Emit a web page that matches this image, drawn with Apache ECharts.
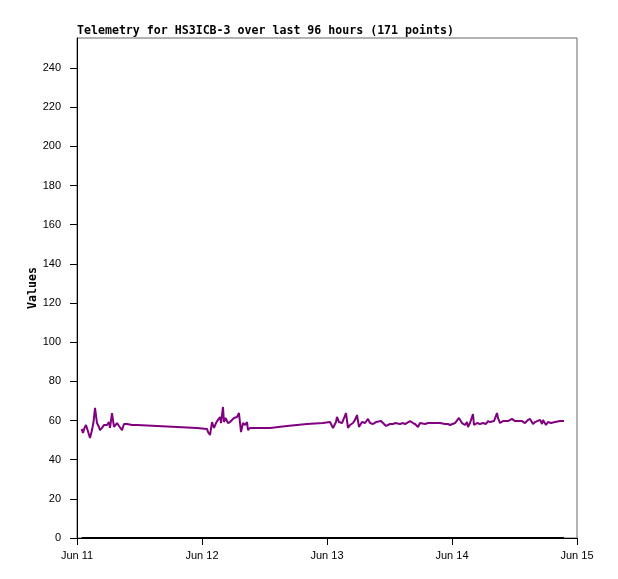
<!DOCTYPE html>
<html>
<head>
<meta charset="utf-8">
<script src="https://cdn.jsdelivr.net/npm/echarts@6/dist/echarts.min.js"></script>
<style>html,body{margin:0;padding:0;background:#fff}#c{width:618px;height:579px}</style>
</head>
<body>
<div id="c"></div>
<script>
// hours since Jun 11 00:00
const hours = [0.90,1.15,1.44,1.73,2.11,2.50,2.88,3.17,3.46,3.84,4.22,4.42,4.80,5.18,5.38,5.76,6.14,6.34,6.72,7.10,7.39,7.68,8.06,8.26,8.64,9.02,9.60,10.56,11.52,15.36,19.20,23.04,
24.96,25.15,25.54,25.92,26.30,26.69,27.07,27.46,27.65,28.03,28.22,28.51,28.80,28.99,29.38,29.76,30.14,30.72,31.10,31.49,31.87,32.26,32.64,32.83,33.22,35.14,37.06,40.32,44.16,47.23,
48.58,48.96,49.15,49.73,49.92,50.30,50.88,51.07,51.65,52.03,52.42,52.99,53.38,53.76,54.14,54.72,55.30,55.87,56.26,56.83,57.41,57.79,58.37,58.75,59.33,59.71,60.10,60.67,61.06,61.44,62.02,62.59,62.98,63.36,63.94,64.51,64.90,65.47,65.86,66.24,66.82,67.39,67.78,68.16,68.74,69.31,69.70,70.08,70.66,71.23,71.62,
72.00,72.58,72.96,73.34,73.92,74.50,74.88,75.07,75.46,76.03,76.22,76.80,77.38,77.95,78.53,78.91,79.30,79.68,80.06,80.64,80.83,81.22,81.79,82.18,82.75,83.52,84.10,84.67,85.44,86.02,86.59,86.98,87.55,87.94,88.32,88.90,89.28,89.47,90.05,90.43,91.01,91.39,91.78,92.16,92.74,93.12,93.50];
const values = [55.7,53.6,56.2,57.7,56.7,51.1,55.1,59.2,66.4,58.7,56.7,55.1,56.2,57.7,56.7,57.7,59.2,56.2,63.8,56.7,57.7,58.7,57.2,56.2,55.1,58.2,58.2,57.7,57.7,57.2,56.7,56.2,
55.7,54.1,52.6,59.2,56.2,58.7,60.3,61.8,58.7,66.9,59.2,61.3,60.3,58.7,59.2,58.7,61.3,61.8,63.8,54.1,58.7,57.7,59.2,55.1,56.2,56.2,56.2,57.2,58.2,58.7,
59.2,58.2,56.2,59.2,61.8,59.2,58.7,58.9,63.8,56.2,57.7,58.7,60.3,62.8,56.7,59.2,58.7,60.8,58.7,58.2,59.2,58.7,59.7,58.7,57.2,58.2,58.2,58.2,58.7,58.7,58.2,58.7,58.2,57.2,59.7,58.7,58.2,56.7,58.7,58.7,58.2,58.7,58.7,58.2,58.7,58.7,58.7,58.7,58.2,58.2,57.7,
56.7,58.7,59.7,61.3,58.7,57.7,59.2,56.7,58.7,63.3,57.7,58.7,58.2,58.7,58.2,59.7,59.2,59.2,59.7,63.8,61.3,58.7,59.7,59.7,59.7,60.8,59.7,59.7,59.7,58.7,60.3,60.8,58.2,59.2,58.7,60.3,58.2,60.3,57.7,59.2,58.7,59.7,59.2,58.7,59.7,59.7,59.7];
const zeroValues = [0, 0];
const zeroHours = [hours[0], hours[hours.length - 1]];
const xTicks = [0, 24, 48, 72, 96];
const xTickLabels = ['Jun 11', 'Jun 12', 'Jun 13', 'Jun 14', 'Jun 15'];
const yTicks = [0, 20, 40, 60, 80, 100, 120, 140, 160, 180, 200, 220, 240];

const chart = echarts.init(document.getElementById('c'), null, {renderer: 'canvas'});
const labelFont = {color: '#000', fontFamily: 'Liberation Sans, Arial, sans-serif', fontSize: 11};
chart.setOption({
  animation: false,
  backgroundColor: '#fff',
  title: {
    text: 'Telemetry for HS3ICB-3 over last 96 hours (171 points)',
    left: 77, top: 25,
    padding: 0,
    textStyle: {fontFamily: 'DejaVu Sans Mono, monospace', fontWeight: 'bold', fontSize: 11.6, color: '#000'}
  },
  grid: {left: 77, right: 41, top: 38, bottom: 41, show: true, borderColor: '#666', borderWidth: 1, containLabel: false},
  xAxis: {
    type: 'value', min: 0, max: 96, interval: 24,
    axisLine: {show: true, onZero: false, lineStyle: {color: '#000', width: 1}},
    axisTick: {show: true, length: 7, lineStyle: {color: '#000'}},
    splitLine: {show: false},
    axisLabel: Object.assign({margin: 12, formatter: v => xTickLabels[xTicks.indexOf(v)] || ''}, labelFont)
  },
  yAxis: {
    type: 'value', min: 0, max: 255.3,
    name: 'Values', nameLocation: 'middle', nameGap: 38, nameRotate: 90, nameMoveOverlap: false,
    nameTextStyle: {fontFamily: 'DejaVu Sans Mono, monospace', fontWeight: 'bold', fontSize: 11.6, color: '#000'},
    axisLine: {show: true, lineStyle: {color: '#000', width: 1}},
    axisTick: {show: true, length: 7, lineStyle: {color: '#000'}, customValues: yTicks},
    splitLine: {show: false},
    axisLabel: Object.assign({margin: 16, customValues: yTicks}, labelFont)
  },
  series: [
    {
      type: 'line', data: zeroHours.map((h, i) => [h, zeroValues[i]]),
      showSymbol: false, lineStyle: {color: '#000', width: 2}, z: 3
    },
    {
      type: 'line', data: hours.map((h, i) => [h, values[i]]),
      showSymbol: false, lineStyle: {color: '#800080', width: 2}, z: 4
    }
  ]
});
</script>
</body>
</html>
